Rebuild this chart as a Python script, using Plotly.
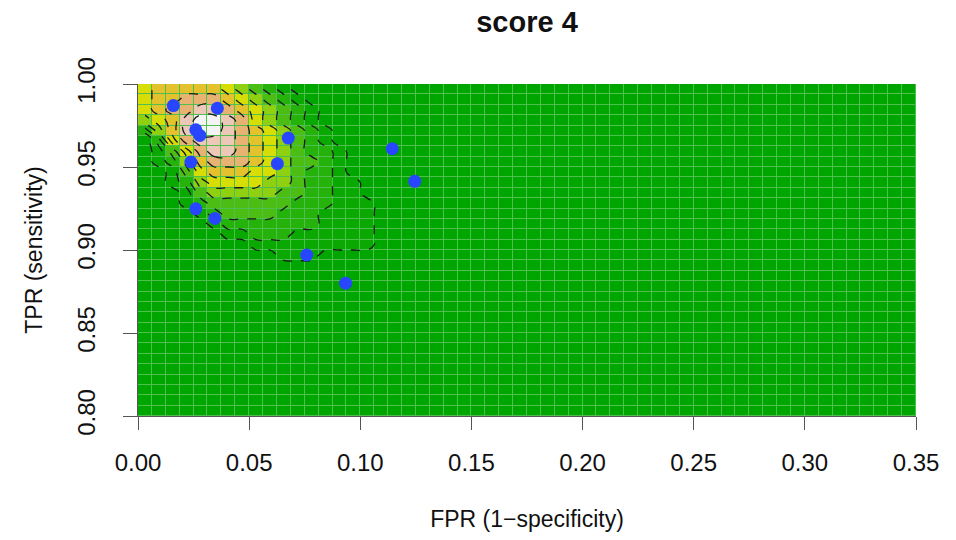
import plotly.graph_objects as go

# Observed study points (FPR, TPR)
fpr_points = [0.0159, 0.0357, 0.0260, 0.0278, 0.0676, 0.0238, 0.0627,
              0.1144, 0.1245, 0.0260, 0.0346, 0.0759, 0.0934]
tpr_points = [0.987, 0.9854, 0.9724, 0.969, 0.9674, 0.953, 0.952,
              0.961, 0.9414, 0.9248, 0.919, 0.897, 0.880]

# Density levels (0 = background, 9 = peak),
# top row = TPR 1.00 going down, leftmost column = FPR 0.00 going right.
density_rows = [
    "566666543210000000",
    "566777654321000000",
    "567788765432100000",
    "456899875432100000",
    "246899876543210000",
    "025788876543210000",
    "013578876543221000",
    "012467776543321000",
    "001356665543221000",
    "001245555443221100",
    "000134444433221100",
    "000123333332221110",
    "000012333322211110",
    "000001222222211110",
    "000000112221111110",
    "000000001111111110",
    "000000000011100000",
]

x_ticks = [0.00, 0.05, 0.10, 0.15, 0.20, 0.25, 0.30, 0.35]
y_ticks = [0.80, 0.85, 0.90, 0.95, 1.00]

x_range = [0.0, 0.35]
y_range = [0.80, 1.00]
n_cols, n_rows = 56, 32
dx = (x_range[1] - x_range[0]) / n_cols
dy = (y_range[1] - y_range[0]) / n_rows

# full grid, bottom row first
z = [[0] * n_cols for _ in range(n_rows)]
for k, row in enumerate(density_rows):
    r = n_rows - 1 - k
    for c, ch in enumerate(row):
        z[r][c] = int(ch)

terrain = [
    [0.0, "#00A600"], [1 / 9, "#0AA902"], [2 / 9, "#25B20A"],
    [3 / 9, "#4CBD12"], [4 / 9, "#8FD010"], [5 / 9, "#D6DE06"],
    [6 / 9, "#E3C22E"], [7 / 9, "#E7B272"], [8 / 9, "#EDC7B8"],
    [1.0, "#F4F4F4"],
]

font = "Liberation Sans, Arial, Helvetica, sans-serif"

fig = go.Figure()
fig.add_trace(go.Heatmap(
    z=z, x0=x_range[0] + dx / 2, dx=dx, y0=y_range[0] + dy / 2, dy=dy,
    colorscale=terrain, zmin=0, zmax=9, showscale=False,
    xgap=1, ygap=1, hoverinfo="skip",
))
fig.add_trace(go.Contour(
    z=z, x0=x_range[0] + dx / 2, dx=dx, y0=y_range[0] + dy / 2, dy=dy,
    contours=dict(start=0.5, end=8.5, size=1, coloring="none"),
    line=dict(color="#1a1a1a", width=1.3, dash="dash", smoothing=1.3),
    showscale=False, hoverinfo="skip",
))
fig.add_trace(go.Scatter(
    x=fpr_points, y=tpr_points, mode="markers",
    marker=dict(color="#2846ff", size=13, line=dict(width=0)),
    showlegend=False,
))

fig.update_layout(
    width=956, height=540,
    margin=dict(l=138, r=40, t=84, b=122),
    paper_bgcolor="white", plot_bgcolor="#4fc04f",
    font=dict(family=font, size=24, color="#111"),
    title=dict(text="<b>score 4</b>", x=0.5, xref="paper", y=1 - 22 / 540,
               yref="container", xanchor="center", yanchor="middle",
               font=dict(size=29, family=font, color="#111")),
    showlegend=False,
)
fig.update_xaxes(
    range=x_range, tickvals=x_ticks, ticktext=[f"{v:.2f}" for v in x_ticks],
    ticks="outside", ticklen=13, tickcolor="#555", tickwidth=1,
    showline=True, linecolor="#555", linewidth=1, mirror=False,
    showgrid=False, zeroline=False, ticklabelstandoff=12,
    title=dict(text="FPR (1\u2212specificity)", standoff=36,
               font=dict(size=23)),
)
fig.update_yaxes(
    range=y_range, tickvals=y_ticks, ticktext=[f"{v:.2f}" for v in y_ticks],
    ticks="outside", ticklen=14, tickcolor="#555", tickwidth=1, tickangle=-90,
    showline=True, linecolor="#555", linewidth=1, mirror=False,
    showgrid=False, zeroline=False, ticklabelstandoff=18,
    title=dict(text="TPR (sensitivity)", standoff=24, font=dict(size=23)),
)

fig.write_html("out.html", config={"displayModeBar": False},
               post_script="document.body.style.margin='0';")
